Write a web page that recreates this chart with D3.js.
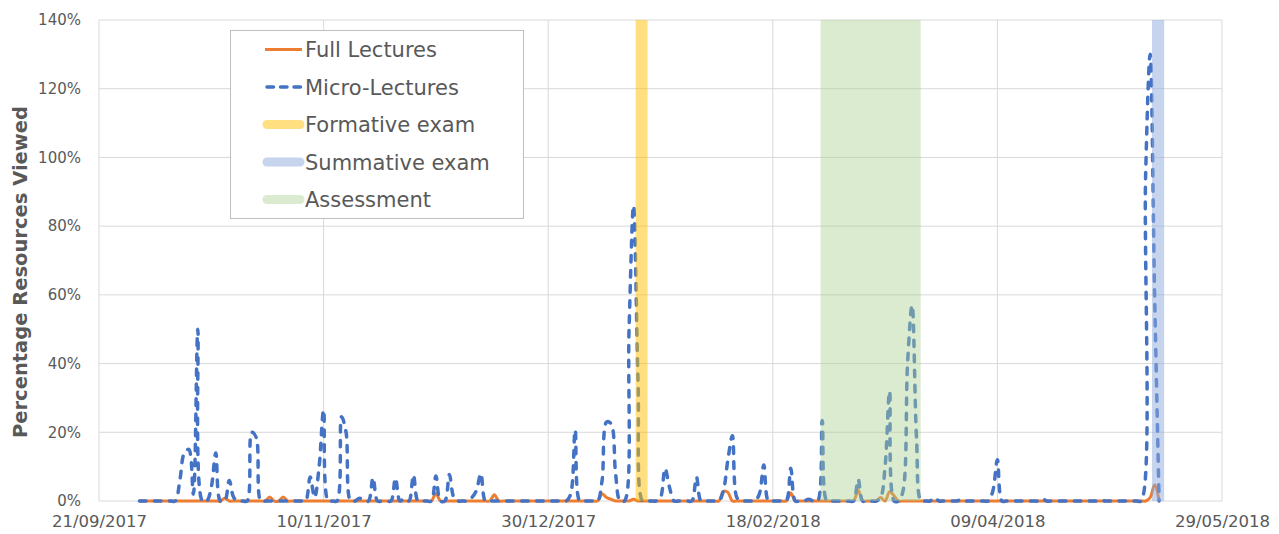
<!DOCTYPE html>
<html><head><meta charset="utf-8">
<script src="https://cdn.jsdelivr.net/npm/d3@7"></script>
<style>
html,body{margin:0;padding:0;background:#fff;}
svg{display:block;}
text{font-family:"DejaVu Sans",sans-serif;fill:#595959;}
</style></head>
<body><svg id="chart" width="1279" height="534"></svg>
<script>
// ---------------- DATA ----------------
const seriesNames = ["Full Lectures", "Micro-Lectures"];
const firstDay = "2017-09-30";   // first daily value below
// daily percentages, from 30/09/2017 to 15/05/2018
const fullLectures = [
  0,0,0,0,0,0,0,0,0,0,
  0,0,0,0,0,0,0,0,0,0.8,
  0,0,0,0,0,0,0,0,0,1.2,
  0,0,1.2,0,0,0,0,0,0,0,
  0,0,0,0,0,0,0,0,0,0,
  0,0,0,0,0,0,0,0,0,0,
  0,0,0,0,0,0,2.2,0,0,0,
  0,0,0,0,0,0,0,0,0,1.8,
  0,0,0,0,0,0,0,0,0,0,
  0,0,0,0,0,0,0,0,0,0,
  0,0,0,2,1,0.5,0,0,0,0,
  0.5,0,0,0,0,0,0,0,0,0,
  0,0,0,0,0,0,0,0,0,0,
  2.8,2.5,0,0,0,0,0,0,0,0,
  0,0,0,0,0,2.3,0,0,0,0,
  0,0,0,0,0,0,0,0,0,0,
  3.2,0,0,0,0,1,0,2.7,1.5,0,
  0,0,0,0,0,0,0,0,0,0,
  0,0,0,0,0,0,0,0,0,0,
  0,0,0,0,0,0,0,0,0,0,
  0,0,0,0,0,0,0,0,0,0,
  0,0,0,0,0,0,0,0,0,0,
  0,0,0,0,0,1,4.7,0
];
const microLectures = [
  0,0,0,0,0,0,0,0,0,6,
  14,15,2,50,0,0,4,14,0,0,
  6,1,0,0,0,20,18.5,0,0,0,
  0,0,0,0,0,0,0,0,7,1,
  10,26.5,0,0,0,24.5,20,0,0,0.8,
  0,0,6.8,0,0,0,0,6.7,0,0.8,
  0,7.6,0,0,0,0,7.3,0,0,7.7,
  1,0,0,0,1,3,8,0,0,0,
  0,0,0,0,0,0,0,0,0,0,
  0,0,0,0,0,0,2,20.7,0,0,
  0,0,0,6,23,22.5,8,0,0,50,
  86,35,0,0,0,0,1,9.5,4,0,
  0,0,0,0,7,0,0,0,0,0,
  3,12,19,1,0,0,0,0,2,10.5,
  0,0,0,0,0,9.5,0,0,0,0.5,
  0,0,23.4,0,0,0,0,0,0,0,
  6.3,0,0,0,0,1,10,32,0,0,
  3,40,57,18,0,0,0,1,0,0,
  0,0,0,0.5,0,0,0,0,0,0,
  3,12,0,0,0,0,0,0,0,0,
  0,0.7,0,0,0,0,0,0,0,0,
  0,0,0,0,0.3,0,0,0,0,0,
  0,0,0,0,95,130,60,0
];
const bandNames  = ["Formative exam", "Summative exam", "Assessment"];
const bandStarts = ["2018-01-18T11:00", "2018-05-13T10:00", "2018-02-28T15:00"];
const bandEnds   = ["2018-01-21T03:00", "2018-05-16T03:00", "2018-03-22T22:00"];
const xTickLabels = ["21/09/2017","10/11/2017","30/12/2017","18/02/2018","09/04/2018","29/05/2018"];
const yTickValues = [0,20,40,60,80,100,120,140];
const yTitle = "Percentage Resources Viewed";

// ---------------- STYLE ----------------
const lineColors = ["#ED7D31", "#4472C4"];
const bandColors = ["#FFC000", "#8EA9DB", "#A9D08E"];
const bandOpacity = [0.5, 0.5, 0.42];

const svg = d3.select("#chart");
const L = 99, R = 1222, T = 20, B = 501;

const parseTick = d3.utcParse("%d/%m/%Y");
const parseISO = d3.utcParse("%Y-%m-%dT%H:%M");
const tickDates = xTickLabels.map(parseTick);
const x = d3.scaleUtc().domain([tickDates[0], tickDates[tickDates.length-1]]).range([L, R]);
const y = d3.scaleLinear().domain([0, 140]).range([B, T]);

const start = d3.utcParse("%Y-%m-%d")(firstDay);
const toPoints = arr => arr.map((v, i) => ({date: d3.utcDay.offset(start, i), v}));
const series = [toPoints(fullLectures), toPoints(microLectures)];

// gridlines
const grid = svg.append("g");
grid.selectAll("line.h").data(yTickValues).join("line")
  .attr("x1", L).attr("x2", R).attr("y1", d => y(d)).attr("y2", d => y(d))
  .attr("stroke", "#D9D9D9").attr("stroke-width", 1);
grid.selectAll("line.v").data(tickDates).join("line")
  .attr("x1", d => x(d)).attr("x2", d => x(d)).attr("y1", T).attr("y2", B)
  .attr("stroke", "#D9D9D9").attr("stroke-width", 1);

// axes
const xAxis = d3.axisBottom(x).tickValues(tickDates).tickFormat(d3.utcFormat("%d/%m/%Y")).tickSize(0).tickPadding(14);
const gx = svg.append("g").attr("transform", `translate(0,${B})`).call(xAxis);
gx.select(".domain").remove();
gx.selectAll("text").attr("font-size", 16.5).attr("fill", "#595959").style("font-family", '"DejaVu Sans",sans-serif');

const yAxis = d3.axisLeft(y).tickValues(yTickValues).tickFormat(d => d + "%").tickSize(0).tickPadding(18);
const gy = svg.append("g").attr("transform", `translate(${L},0)`).call(yAxis);
gy.select(".domain").remove();
gy.selectAll("text").attr("font-size", 15).attr("fill", "#595959").style("font-family", '"DejaVu Sans",sans-serif');

svg.append("text").attr("transform", "translate(27,272) rotate(-90)")
  .attr("text-anchor", "middle").attr("font-size", 19.5).attr("font-weight", "bold").text(yTitle);

// lines
const line = d3.line().x(d => x(d.date)).y(d => y(d.v)).curve(d3.curveCatmullRom.alpha(0.5));
svg.append("path").datum(series[0]).attr("d", line).attr("fill", "none")
  .attr("stroke", lineColors[0]).attr("stroke-width", 3).attr("stroke-linejoin", "round");
svg.append("path").datum(series[1]).attr("d", line).attr("fill", "none")
  .attr("stroke", lineColors[1]).attr("stroke-width", 3.5).attr("stroke-linecap", "round")
  .attr("stroke-linejoin", "round").attr("stroke-dasharray", "6.5,8.5");

// bands (drawn over lines, semi-transparent)
const bands = bandNames.map((n, i) => ({name: n, s: parseISO(bandStarts[i]), e: parseISO(bandEnds[i]), c: bandColors[i], o: bandOpacity[i]}));
svg.append("g").selectAll("rect").data(bands).join("rect")
  .attr("x", d => x(d.s)).attr("width", d => x(d.e) - x(d.s))
  .attr("y", y(140)).attr("height", y(0) - y(140))
  .attr("fill", d => d.c).attr("fill-opacity", d => d.o);

// legend
const lg = svg.append("g");
lg.append("rect").attr("x", 230.5).attr("y", 30.5).attr("width", 293).attr("height", 188)
  .attr("fill", "#fff").attr("stroke", "#BFBFBF").attr("stroke-width", 1);
const rowY = [49.5, 87, 124.5, 162, 199.5];
const items = [
  {name: seriesNames[0], type: "solid", c: lineColors[0]},
  {name: seriesNames[1], type: "dash", c: lineColors[1]},
  ...bands.map(b => ({name: b.name, type: "band", c: b.c, o: b.o}))
];
items.forEach((it, i) => {
  const yy = rowY[i];
  const ln = lg.append("line").attr("x1", 267).attr("x2", 300).attr("y1", yy).attr("y2", yy).attr("stroke", it.c);
  if (it.type === "solid") ln.attr("x1", 265).attr("x2", 302).attr("stroke-width", 3);
  else if (it.type === "dash") ln.attr("x1", 267).attr("x2", 302).attr("stroke-width", 3.5).attr("stroke-linecap", "round").attr("stroke-dasharray", "6.5,7");
  else ln.attr("stroke-width", 9).attr("stroke-linecap", "round").attr("stroke-opacity", it.o);
  lg.append("text").attr("x", 305).attr("y", yy).attr("dy", "0.36em").attr("font-size", 21).text(it.name);
});
</script></body></html>
